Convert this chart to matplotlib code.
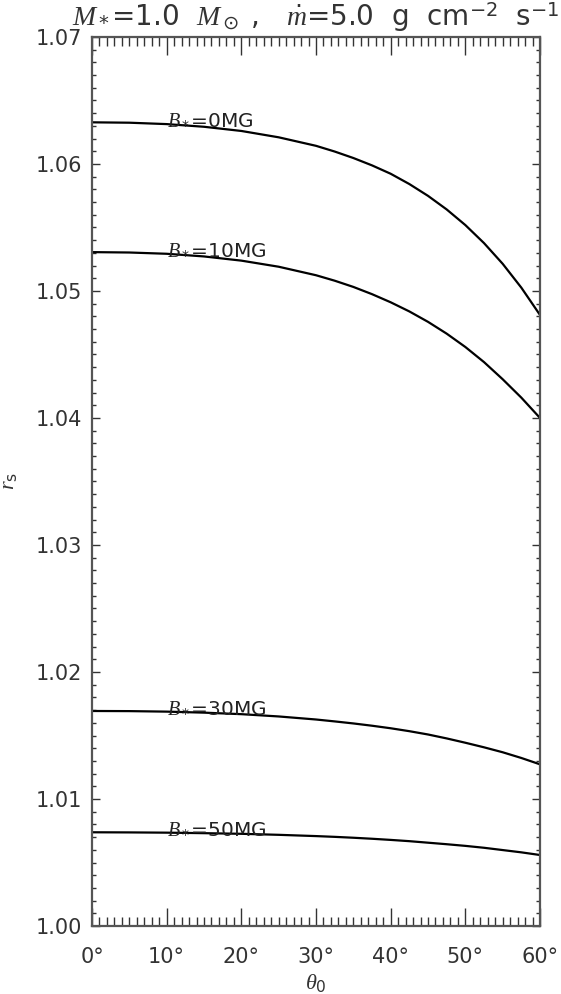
import matplotlib.pyplot as plt
from matplotlib.ticker import MultipleLocator, FuncFormatter

plt.rcParams['font.family'] = ['DejaVu Sans']
plt.rcParams['mathtext.fontset'] = 'custom'
plt.rcParams['mathtext.rm'] = 'DejaVu Sans'
plt.rcParams['mathtext.it'] = 'Liberation Serif:italic'
plt.rcParams['mathtext.sf'] = 'DejaVu Sans'

# theta_0 in degrees, r_s
theta = [0, 5, 10, 15, 20, 25, 30, 32.5, 35, 37.5, 40, 42.5, 45, 47.5, 50, 52.5, 55, 57.5, 60]
rs_b0 = [1.06328, 1.06325, 1.06314, 1.06293, 1.06260, 1.06210, 1.06143, 1.06098, 1.06047, 1.05989,
         1.05923, 1.05842, 1.05749, 1.05642, 1.05519, 1.05377, 1.05214, 1.05026, 1.04811]
rs_b10 = [1.05306, 1.05303, 1.05293, 1.05272, 1.05239, 1.05191, 1.05124, 1.05081, 1.05032, 1.04975,
          1.04911, 1.04839, 1.04757, 1.04664, 1.04559, 1.04440, 1.04305, 1.04160, 1.04000]
rs_b30 = [1.01693, 1.01692, 1.01688, 1.01680, 1.01668, 1.01650, 1.01626, 1.01611, 1.01595, 1.01577,
          1.01557, 1.01534, 1.01508, 1.01477, 1.01443, 1.01407, 1.01368, 1.01323, 1.01273]
rs_b50 = [1.00738, 1.00737, 1.00735, 1.00731, 1.00726, 1.00718, 1.00708, 1.00702, 1.00695, 1.00687,
          1.00678, 1.00668, 1.00656, 1.00644, 1.00631, 1.00616, 1.00598, 1.00580, 1.00559]
labels = ['0', '10', '30', '50']
label_idx = 2  # labels sit on the curve at theta = 10

fig = plt.figure(figsize=(5.61, 9.94), dpi=100)
ax = fig.add_axes([0.164, 0.0684, 0.7986, 0.8944])

for rs, b in zip([rs_b0, rs_b10, rs_b30, rs_b50], labels):
    ax.plot(theta, rs, color='black', lw=1.6, solid_joinstyle='round')
    ax.text(theta[label_idx], rs[label_idx], r'$B_*$=' + b + 'MG', fontsize=14.5,
            color='#222222', ha='left', va='baseline')

ax.set_xlim(0, 60)
ax.set_ylim(1.00, 1.07)
ax.xaxis.set_major_locator(MultipleLocator(10))
ax.xaxis.set_minor_locator(MultipleLocator(1))
ax.yaxis.set_major_locator(MultipleLocator(0.01))
ax.yaxis.set_minor_locator(MultipleLocator(0.001))
ax.xaxis.set_major_formatter(FuncFormatter(lambda v, p: '%d\u00b0' % round(v)))
ax.yaxis.set_major_formatter(FuncFormatter(lambda v, p: '%.2f' % v))

ax.tick_params(axis='both', which='both', direction='in', top=True, right=True,
               color='#333333', width=1.0, labelsize=15, labelcolor='#333333')
ax.tick_params(axis='x', which='major', length=13, pad=15)
ax.tick_params(axis='x', which='minor', length=6.5)
ax.tick_params(axis='y', which='major', length=6, pad=7)
ax.tick_params(axis='y', which='minor', length=3.2)
for s in ax.spines.values():
    s.set_color('#555555')
    s.set_linewidth(1.6)

ax.set_xlabel(r'$\theta_0$', fontsize=16, color='#333333', labelpad=4)
ax.set_ylabel(r'$r_{\rm s}$', fontsize=16, color='#333333', labelpad=12)
ax.set_title(r'$M_*$=1.0  $M_\odot$ ,   $\dot{m}$=5.0  g  cm$^{-2}$  s$^{-1}$',
             fontsize=20, color='#333333', pad=8)

fig.savefig('out.png', dpi=100)
